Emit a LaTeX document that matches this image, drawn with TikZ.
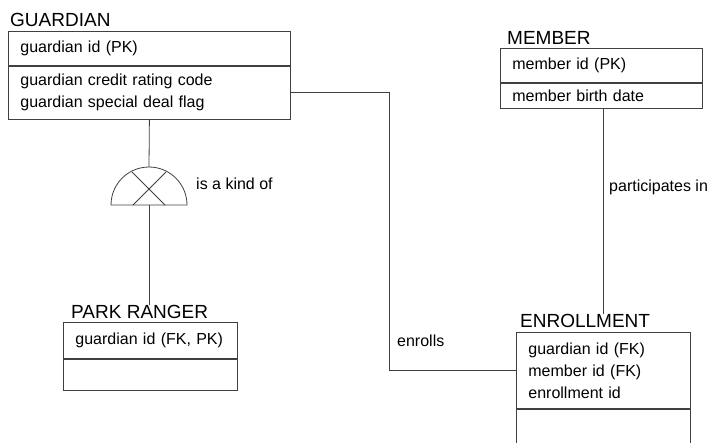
\documentclass[tikz,border=0pt]{standalone}
\usepackage{fontspec}
\setmainfont{Liberation Sans}
\usetikzlibrary{positioning}
\usetikzlibrary{calc}

\tikzset{
	attrbox/.style={draw=black!75, line width=.8pt, anchor=north west, align=left, inner xsep=12pt, inner ysep=0pt, minimum height=#1, font=\fontsize{16}{22}\selectfont},
	enttitle/.style={inner sep=0pt, anchor=south west, font=\fontsize{19}{22}\selectfont},
	rellabel/.style={inner sep=0pt, anchor=west, font=\fontsize{16}{22}\selectfont},
	relline/.style={draw=black!75, line width=.8pt}
}

\begin{document}
\begin{tikzpicture}[x=1pt,y=-1pt]
	\useasboundingbox (0,0) rectangle (709,442);
	\clip (0,0) rectangle (709,442);

	% guardian
	\node[attrbox=34pt, text width=258pt] (gkey) at (8,31) {guardian id (PK)};
	\node[attrbox=53pt, text width=258pt, below=0pt of gkey] (gattr) {guardian credit rating code\\guardian special deal flag};
	\node[enttitle, above right=4pt and 2pt of gkey.north west] (gtitle) {GUARDIAN};

	% member
	\node[attrbox=34pt, text width=178pt] (mkey) at (500,48) {member id (PK)};
	\node[attrbox=25pt, text width=178pt, below=0pt of mkey] (mattr) {member birth date};
	\node[enttitle, above right=3pt and 7pt of mkey.north west] (mtitle) {MEMBER};

	% park ranger
	\node[attrbox=36pt, text width=150pt] (pkey) at (63,322) {guardian id (FK, PK)};
	\node[attrbox=31pt, text width=150pt, below=0pt of pkey] (pattr) {};
	\node[enttitle, above right=3pt and 8pt of pkey.north west] (ptitle) {PARK RANGER};

	% enrollment
	\node[attrbox=76pt, text width=150pt] (ekey) at (516,332) {guardian id (FK)\\member id (FK)\\enrollment id};
	\node[attrbox=50pt, text width=150pt, below=0pt of ekey] (eattr) {};
	\node[enttitle, above right=4pt and 4pt of ekey.north west] (etitle) {ENROLLMENT};

	% subtype symbol
	\coordinate (kind) at (149,205);
	\coordinate (kindtop) at ($(kind)+(0,-38)$);
	\draw[relline] ($(kind)+(-38,0)$) arc (180:360:38) -- cycle;
	\draw[relline] ($(kind)+(-17,-33)$) -- ($(kind)+(16,0)$);
	\draw[relline] ($(kind)+(17,-33)$) -- ($(kind)+(-16,0)$);
	\draw[relline] (gattr.south) -- (kindtop);
	\draw[relline] (kind) -- (kind |- ptitle.north);
	\node[rellabel] (kindlbl) at (196,184) {is a kind of};

	% relationships
	\coordinate (enb) at (389,0 |- ekey.west);
	\draw[relline] (gattr.east) -| (enb) -- (ekey.west);
	\node[rellabel] (enlbl) at (397,341) {enrolls};
	\draw[relline] (ekey.north |- mattr.south) -- (ekey.north |- etitle.north);
	\node[rellabel] (partlbl) at (609,187) {participates in};
\end{tikzpicture}
\end{document}
